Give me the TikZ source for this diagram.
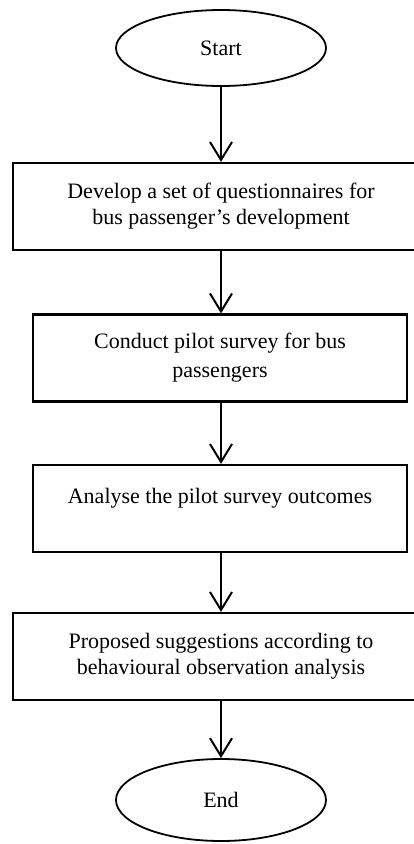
\documentclass[tikz,border=0pt]{standalone}
\usepackage{fontspec}
\setmainfont{Liberation Serif}
\usetikzlibrary{shapes.geometric,arrows.meta}
\tikzset{
  flowfont/.style={font=\fontsize{22}{26}\selectfont},
  termnode/.style={draw,line width=1.8pt,ellipse,minimum width=210pt,inner sep=0pt,flowfont},
  procbox/.style={draw,line width=2.2pt,rectangle,minimum height=87pt,inner sep=0pt,align=center,flowfont},
  flowarrow/.style={line width=2pt,-{Straight Barb[length=18pt,width=22pt,line width=2pt]}}
}

\begin{document}
\begin{tikzpicture}[x=1pt,y=-1pt]
\useasboundingbox (0,0) rectangle (414,844);
% terminals
\node[termnode,minimum height=76pt] (start) at (221,48) {Start};
\node[termnode,minimum height=82pt] (end) at (221,800) {End};
% process steps
\node[procbox,minimum width=416pt] (develop) at (221,206.5) {Develop a set of questionnaires for\\bus passenger's development};
\node[procbox,minimum width=374pt] (pilot) at (220,358) {Conduct pilot survey for bus\\[3pt]passengers};
\node[procbox,minimum width=374pt] (analyse) at (220,508.5) {Analyse the pilot survey outcomes\\~};
\node[procbox,minimum width=416pt] (propose) at (221,656.5) {Proposed suggestions according to\\behavioural observation analysis};
% connectors
\draw[flowarrow] (start.south) -- (develop.north -| start.south);
\draw[flowarrow] (develop.south -| start.south) -- (pilot.north -| start.south);
\draw[flowarrow] (pilot.south -| start.south) -- (analyse.north -| start.south);
\draw[flowarrow] (analyse.south -| start.south) -- (propose.north -| start.south);
\draw[flowarrow] (propose.south -| start.south) -- (end.north);
\end{tikzpicture}
\end{document}
